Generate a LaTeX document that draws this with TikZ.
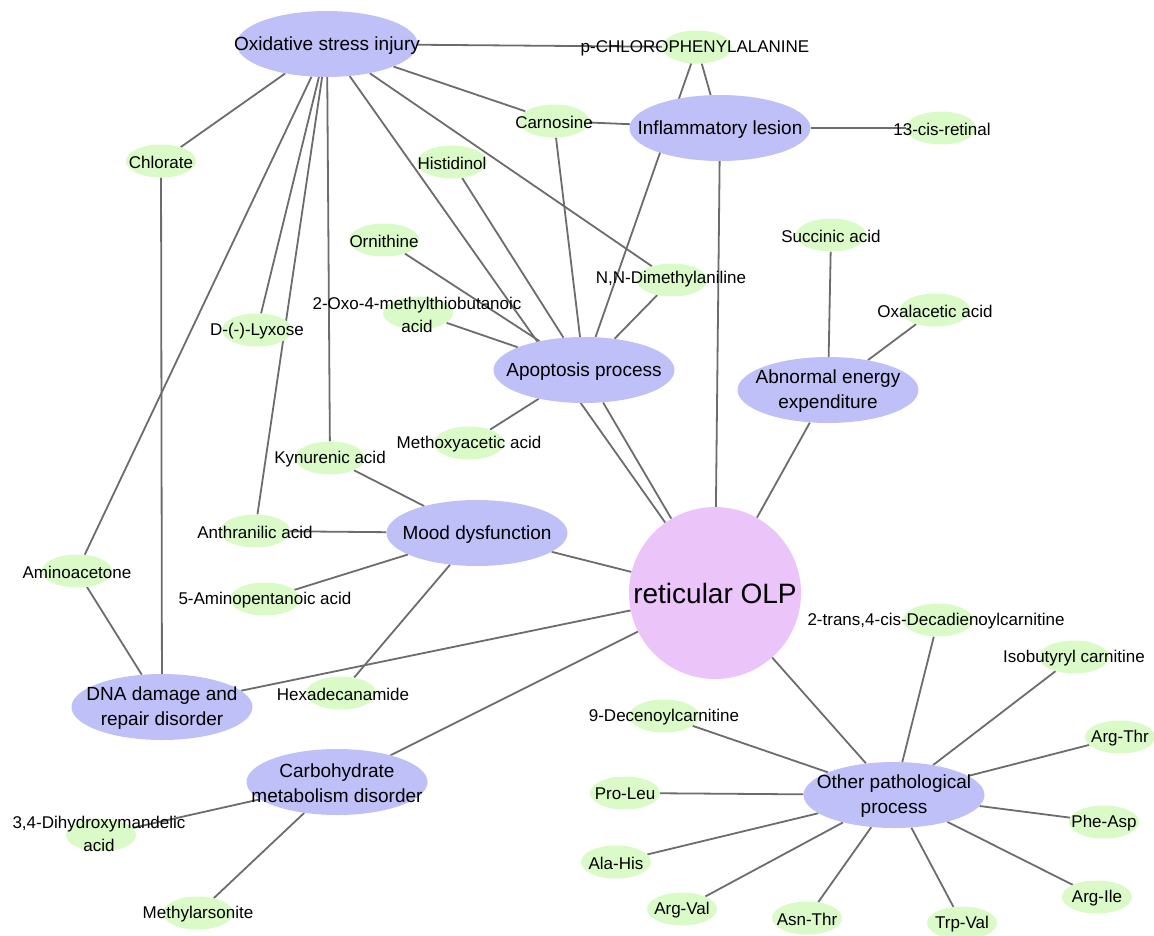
\documentclass[tikz,border=0pt]{standalone}
\usepackage{fontspec}
\setmainfont{Liberation Sans}
\usetikzlibrary{shapes.geometric}
\pgfdeclarelayer{edges}
\pgfsetlayers{edges,main}
\definecolor{pfill}{RGB}{192,192,248}
\definecolor{gfill}{RGB}{218,250,200}
\definecolor{olpfill}{RGB}{235,196,249}
\definecolor{edgec}{RGB}{108,108,108}
\begin{document}
\begin{tikzpicture}[x=1pt,y=-1pt,
 pnode/.style={ellipse,fill=pfill,minimum width=181pt,minimum height=66pt,inner sep=0pt},
 gnode/.style={ellipse,fill=gfill,minimum width=70pt,minimum height=33pt,inner sep=0pt},
 ptext/.style={font=\fontsize{19}{25}\selectfont,align=center,inner sep=0pt,yshift=-1.5pt},
 gtext/.style={font=\fontsize{17}{23}\selectfont,align=center,inner sep=0pt,yshift=-1pt},
 link/.style={draw=edgec,line width=1.8pt}]
\useasboundingbox (0,0) rectangle (1154,935);
% hub nodes
\node[pnode] (osi) at (327,44) {};
\node[pnode] (infl) at (720,128) {};
\node[pnode] (apop) at (584,370) {};
\node[pnode] (aee) at (828,390) {};
\node[pnode] (mood) at (477,533) {};
\node[pnode] (dna) at (162,707) {};
\node[pnode] (carb) at (337,782) {};
\node[pnode] (other) at (894,795) {};
\node[circle,fill=olpfill,minimum size=172pt,inner sep=0pt,font=\fontsize{28}{30}\selectfont] (olp) at (715,593) {reticular OLP};
% metabolite nodes
\node[gnode] (pcpa) at (697,47) {};
\node[gnode] (carn) at (554,121) {};
\node[gnode] (cis) at (941,128) {};
\node[gnode] (chlo) at (161,161) {};
\node[gnode] (hist) at (452,162) {};
\node[gnode] (orn) at (384,240) {};
\node[gnode] (suc) at (831,235) {};
\node[gnode] (nnd) at (672,280) {};
\node[gnode] (oxo) at (418,313) {};
\node[gnode] (lyx) at (257,330) {};
\node[gnode] (oxa) at (935,310) {};
\node[gnode] (meth) at (469,443) {};
\node[gnode] (kyn) at (330,458) {};
\node[gnode] (anth) at (255,531) {};
\node[gnode] (amino) at (77,571) {};
\node[gnode] (apa) at (265,599) {};
\node[gnode] (hexa) at (341,693) {};
\node[gnode] (deca) at (938,620) {};
\node[gnode] (isob) at (1074,657) {};
\node[gnode] (dec9) at (664,716) {};
\node[gnode] (argthr) at (1120,737) {};
\node[gnode] (proleu) at (625,793) {};
\node[gnode] (pheasp) at (1104,822) {};
\node[gnode] (alahis) at (616,862) {};
\node[gnode] (argval) at (682,909) {};
\node[gnode] (asnthr) at (807,918) {};
\node[gnode] (trpval) at (962,923) {};
\node[gnode] (argile) at (1097,897) {};
\node[gnode] (dhm) at (101,835) {};
\node[gnode] (mars) at (198,913) {};
% texts
\node[ptext] (tosi) at (osi) {Oxidative stress injury};
\node[ptext] (tinfl) at (infl) {Inflammatory lesion};
\node[ptext] (tapop) at (apop) {Apoptosis process};
\node[ptext] (taee) at (aee) {Abnormal energy\\expenditure};
\node[ptext] (tmood) at (mood) {Mood dysfunction};
\node[ptext] (tdna) at (dna) {DNA damage and\\repair disorder};
\node[ptext] (tcarb) at (carb) {Carbohydrate\\metabolism disorder};
\node[ptext] (tother) at (other) {Other pathological\\process};
\node[gtext] (tpcpa) at (695,47) {p-CHLOROPHENYLALANINE};
\node[gtext] (tcarn) at (carn) {Carnosine};
\node[gtext] (tcis) at (942,128) {13-cis-retinal};
\node[gtext] (tchlo) at (chlo) {Chlorate};
\node[gtext] (thist) at (hist) {Histidinol};
\node[gtext] (torn) at (orn) {Ornithine};
\node[gtext] (tsuc) at (suc) {Succinic acid};
\node[gtext] (tnnd) at (671,278) {N,N-Dimethylaniline};
\node[gtext] (toxo) at (417,314) {2-Oxo-4-methylthiobutanoic\\acid};
\node[gtext] (tlyx) at (lyx) {D-(-)-Lyxose};
\node[gtext] (toxa) at (oxa) {Oxalacetic acid};
\node[gtext] (tmeth) at (meth) {Methoxyacetic acid};
\node[gtext] (tkyn) at (kyn) {Kynurenic acid};
\node[gtext] (tanth) at (anth) {Anthranilic acid};
\node[gtext] (tamino) at (amino) {Aminoacetone};
\node[gtext] (tapa) at (apa) {5-Aminopentanoic acid};
\node[gtext] (thexa) at (343,693) {Hexadecanamide};
\node[gtext] (tdeca) at (936,620) {2-trans,4-cis-Decadienoylcarnitine};
\node[gtext] (tisob) at (isob) {Isobutyryl carnitine};
\node[gtext] (tdec9) at (dec9) {9-Decenoylcarnitine};
\node[gtext] (targthr) at (argthr) {Arg-Thr};
\node[gtext] (tproleu) at (proleu) {Pro-Leu};
\node[gtext] (tpheasp) at (pheasp) {Phe-Asp};
\node[gtext] (talahis) at (alahis) {Ala-His};
\node[gtext] (targval) at (argval) {Arg-Val};
\node[gtext] (tasnthr) at (asnthr) {Asn-Thr};
\node[gtext] (ttrpval) at (trpval) {Trp-Val};
\node[gtext] (targile) at (argile) {Arg-Ile};
\node[gtext] (tdhm) at (99,833) {3,4-Dihydroxymandelic\\acid};
\node[gtext] (tmars) at (mars) {Methylarsonite};
% connectors
\begin{pgfonlayer}{edges}
\draw[link] (osi) -- (pcpa);
\draw[link] (osi) -- (carn);
\draw[link] (osi) -- (chlo);
\draw[link] (osi) -- (lyx);
\draw[link] (osi) -- (anth);
\draw[link] (osi) -- (kyn);
\draw[link] (osi) -- (amino);
\draw[link] (osi) -- (olp);
\draw[link] (osi) -- (nnd);
\draw[link] (pcpa) -- (infl);
\draw[link] (pcpa) -- (apop);
\draw[link] (carn) -- (infl);
\draw[link] (carn) -- (apop);
\draw[link] (infl) -- (cis);
\draw[link] (infl) -- (olp);
\draw[link] (hist) -- (apop);
\draw[link] (orn) -- (apop);
\draw[link] (oxo) -- (apop);
\draw[link] (nnd) -- (apop);
\draw[link] (meth) -- (apop);
\draw[link] (apop) -- (olp);
\draw[link] (suc) -- (aee);
\draw[link] (oxa) -- (aee);
\draw[link] (aee) -- (olp);
\draw[link] (kyn) -- (mood);
\draw[link] (anth) -- (mood);
\draw[link] (apa) -- (mood);
\draw[link] (hexa) -- (mood);
\draw[link] (mood) -- (olp);
\draw[link] (chlo) -- (dna);
\draw[link] (amino) -- (dna);
\draw[link] (dna) -- (olp);
\draw[link] (carb) -- (olp);
\draw[link] (dhm) -- (carb);
\draw[link] (mars) -- (carb);
\draw[link] (olp) -- (other);
\draw[link] (other) -- (deca);
\draw[link] (other) -- (isob);
\draw[link] (other) -- (argthr);
\draw[link] (other) -- (pheasp);
\draw[link] (other) -- (argile);
\draw[link] (other) -- (trpval);
\draw[link] (other) -- (asnthr);
\draw[link] (other) -- (argval);
\draw[link] (other) -- (alahis);
\draw[link] (other) -- (proleu);
\draw[link] (other) -- (dec9);
\end{pgfonlayer}
\end{tikzpicture}
\end{document}
